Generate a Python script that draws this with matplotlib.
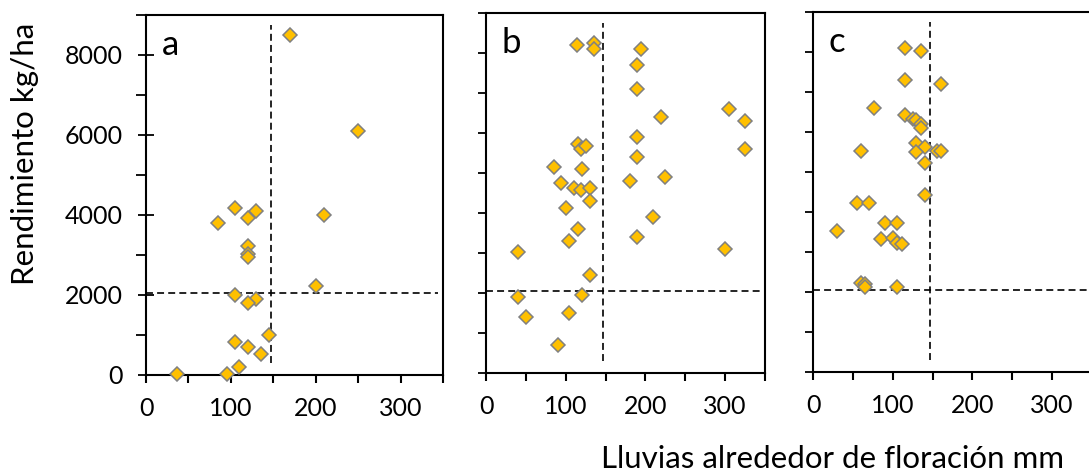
import matplotlib
matplotlib.use('Agg')
import matplotlib.pyplot as plt
from matplotlib.ticker import MultipleLocator

plt.rcParams['font.family'] = ['Lato', 'DejaVu Sans']
plt.rcParams['lines.scale_dashes'] = False

# lluvias (mm) y rendimiento (kg/ha) por panel
rain_a = [170, 250, 105, 130, 120, 85, 210, 120, 120, 120, 200, 105, 130, 120,
          145, 105, 120, 135, 110, 36, 95]
yield_a = [8500, 6100, 4180, 4100, 3920, 3790, 4000, 3230, 3020, 2940, 2220, 2000,
           1910, 1790, 1010, 820, 710, 520, 210, 20, 20]

rain_b = [114, 135, 135, 195, 190, 190, 305, 325, 219, 325, 190, 190, 115, 119,
          125, 85, 120, 94, 110, 119, 130, 130, 180, 225, 100, 210, 115, 104,
          190, 300, 40, 130, 40, 120, 50, 104, 90]
yield_b = [8200, 8240, 8090, 8100, 7700, 7100, 6610, 6300, 6410, 5610, 5910, 5410,
           5720, 5590, 5680, 5140, 5100, 4760, 4630, 4575, 4620, 4310, 4800, 4910,
           4130, 3910, 3600, 3310, 3410, 3100, 3020, 2450, 1910, 1950, 1410, 1510,
           700]

rain_c = [115, 135, 115, 160, 76, 115, 125, 129, 135, 135, 129, 140, 129, 155,
          160, 60, 140, 140, 55, 70, 90, 105, 30, 85, 100, 105, 111, 60, 65, 65,
          105]
yield_c = [8110, 8020, 7310, 7210, 6610, 6420, 6330, 6290, 6190, 6110, 5730, 5630,
           5500, 5530, 5530, 5520, 5210, 4420, 4210, 4210, 3730, 3730, 3520, 3320,
           3350, 3210, 3190, 2230, 2190, 2110, 2110]

panels = [('a', rain_a, yield_a), ('b', rain_b, yield_b), ('c', rain_c, yield_c)]
rain_cut = 147
yield_cut = 2050

fig = plt.figure(figsize=(10.89, 4.73), dpi=100)
boxes = [[0.1341, 0.2072, 0.2727, 0.7611],
         [0.4463, 0.2114, 0.2562, 0.7611],
         [0.7466, 0.2142, 0.2562, 0.7604]]

for i, (letter, rain, yld) in enumerate(panels):
    ax = fig.add_axes(boxes[i])
    ax.plot(rain, yld, linestyle='None', marker='D', markersize=7.3,
            markerfacecolor='#FFC000', markeredgecolor='#808080',
            markeredgewidth=1.1, zorder=3, clip_on=False)
    ax.plot([0, 344], [yield_cut, yield_cut], color='black', lw=1.2,
            dashes=(5, 3), zorder=2, clip_on=False)
    ax.plot([rain_cut, rain_cut], [300, 8750], color='black', lw=1.2,
            dashes=(5, 3), zorder=2)
    ax.set_xlim(0, 350)
    ax.set_ylim(0, 9000)
    ax.xaxis.set_major_locator(MultipleLocator(100))
    ax.xaxis.set_minor_locator(MultipleLocator(50))
    ax.yaxis.set_major_locator(MultipleLocator(2000))
    ax.yaxis.set_minor_locator(MultipleLocator(1000))
    ax.tick_params(axis='x', which='both', direction='out', length=6, width=1.5,
                   labelsize=18, pad=10)
    if i == 0:
        ax.tick_params(axis='y', which='major', direction='inout', length=12,
                       width=1.3, labelsize=18, pad=11)
        ax.tick_params(axis='y', which='minor', direction='out', length=7.5,
                       width=1.3)
    else:
        ax.tick_params(axis='y', which='both', direction='out', length=6,
                       width=1.3, labelleft=False)
    for sp in ax.spines.values():
        sp.set_linewidth(1.5)
    if i == 2:
        ax.spines['right'].set_visible(False)
    ax.text(0.055, 0.888, letter, transform=ax.transAxes, fontsize=25,
            ha='left', va='baseline')

fig.text(0.023, 0.674, 'Rendimiento kg/ha', rotation=90, fontsize=22.5,
         ha='center', va='center')
fig.text(0.7645, 0.0105, 'Lluvias alrededor de floración mm', fontsize=22.5,
         ha='center', va='baseline')

fig.savefig('out.png', dpi=100)
